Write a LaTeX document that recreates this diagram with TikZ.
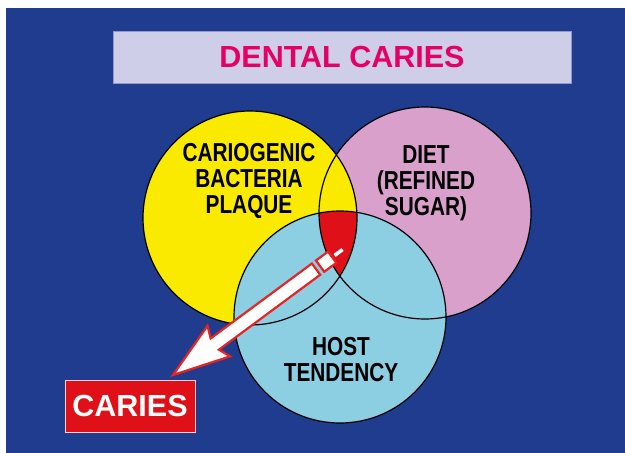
\documentclass[tikz,border=0pt]{standalone}
\usepackage{fontspec}
\setmainfont{Liberation Sans}
\newfontfamily\narrowfont{Liberation Sans}[FakeStretch=0.8]
\usetikzlibrary{calc}
\definecolor{bgblue}{RGB}{32,60,142}
\definecolor{titlefill}{RGB}{206,206,232}
\definecolor{titleline}{RGB}{150,150,205}
\definecolor{titlepink}{RGB}{228,0,102}
\definecolor{plaqueyellow}{RGB}{250,234,0}
\definecolor{dietpink}{RGB}{218,160,204}
\definecolor{hostblue}{RGB}{140,206,226}
\definecolor{cariesred}{RGB}{224,16,24}
\definecolor{arrowred}{RGB}{230,36,36}
\tikzset{
  venn/.style={draw=black,line width=1.2pt},
  vlab/.style={font=\narrowfont\bfseries\fontsize{26}{26}\selectfont,align=center,text=black,inner sep=0pt},
  titlebox/.style={draw=titleline,line width=1pt,fill=titlefill,text=titlepink,
    font=\bfseries\fontsize{30.5}{32}\selectfont,minimum width=458,minimum height=52,inner sep=0pt},
  cariesbox/.style={draw=white!80!cariesred,line width=1pt,fill=cariesred,text=white,
    font=\bfseries\fontsize{30.5}{32}\selectfont,minimum width=130,minimum height=52,inner sep=0pt},
  fatarrow/.style={fill=white,draw=arrowred,line width=2.2pt,line join=miter}
}
\begin{document}
\begin{tikzpicture}[x=1pt,y=-1pt]
  \useasboundingbox (0,0) rectangle (625,453);
  \fill[bgblue] (6,8) rectangle (625,453);

  % title
  \node[titlebox] (title) at (342,57) {DENTAL CARIES};

  % the three factors
  \coordinate (bact) at (250,218);
  \coordinate (diet) at (425,213);
  \coordinate (host) at (340,317);
  \fill[dietpink] (diet) circle[radius=106];
  \fill[plaqueyellow] (bact) circle[radius=107];
  \fill[hostblue] (host) circle[radius=106];
  \begin{scope}
    \clip (bact) circle[radius=107];
    \clip (diet) circle[radius=106];
    \fill[cariesred] (host) circle[radius=106];
  \end{scope}
  \draw[venn] (diet) circle[radius=106];
  \draw[venn] (bact) circle[radius=107];
  \draw[venn] (host) circle[radius=106];

  \node[vlab] (bactlab) at (249,181) {CARIOGENIC\\BACTERIA\\PLAQUE};
  \node[vlab] (dietlab) at (426,183) {DIET\\(REFINED\\SUGAR)};
  \node[vlab] (hostlab) at (341,360) {HOST\\TENDENCY};

  % result
  \node[cariesbox] (caries) at (130,406) {CARIES};
  \coordinate (tip) at (173,375);
  \begin{scope}[shift={(tip)},rotate=36.5]
    \draw[fatarrow] (0,0) -- (57,-19) -- (52,-7) -- (178,-7) -- (178,7) -- (52,7) -- (57,19) -- cycle;
    \draw[fatarrow] (183,-7) rectangle (198,7);
    \fill[white] (201,-1.8) rectangle (211,1.8);
  \end{scope}
\end{tikzpicture}
\end{document}
